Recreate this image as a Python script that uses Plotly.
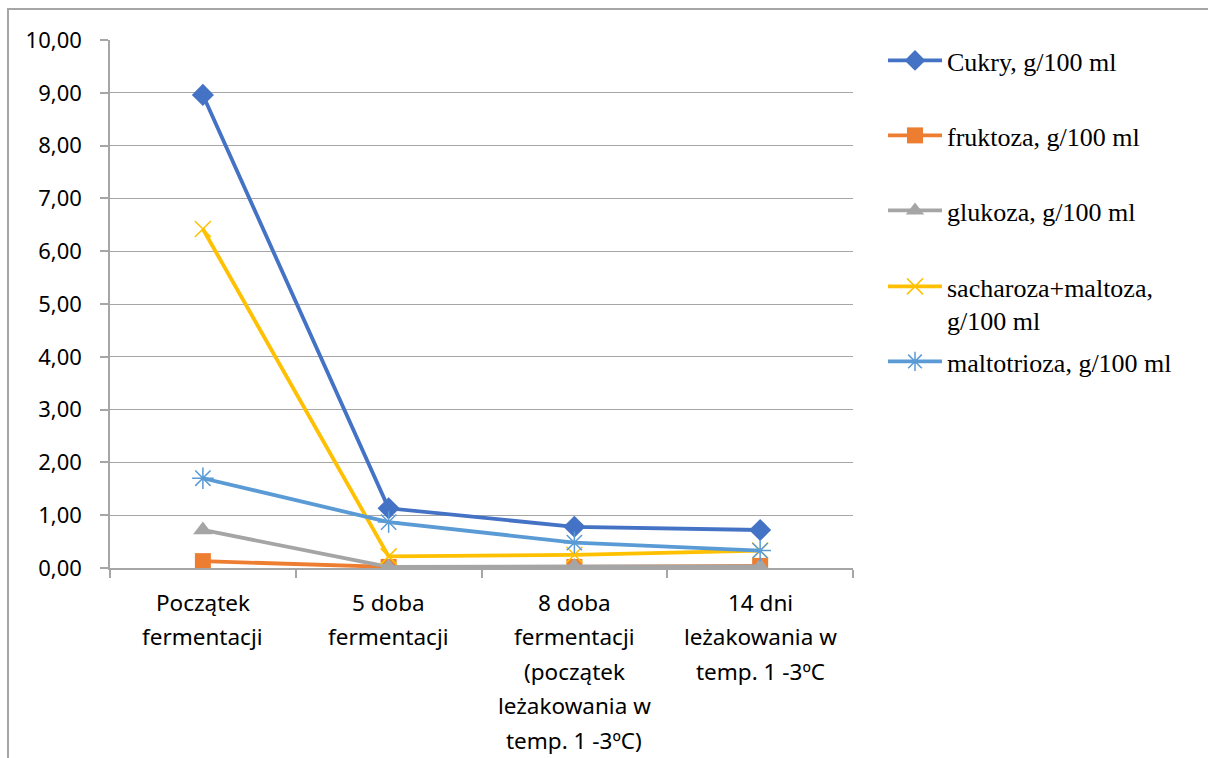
import plotly.graph_objects as go

# Sugar content during fermentation and lagering
categories = [
    "Początek<br>fermentacji",
    "5 doba<br>fermentacji",
    "8 doba<br>fermentacji<br>(początek<br>leżakowania w<br>temp. 1 -3ºC)",
    "14 dni<br>leżakowania w<br>temp. 1 -3ºC",
]
series_names = [
    "Cukry, g/100 ml",
    "fruktoza, g/100 ml",
    "glukoza, g/100 ml",
    "sacharoza+maltoza,<br>g/100 ml",
    "maltotrioza, g/100 ml",
]
cukry = [8.96, 1.13, 0.78, 0.72]
fruktoza = [0.13, 0.02, 0.02, 0.04]
glukoza = [0.72, 0.02, 0.03, 0.03]
sacharoza_maltoza = [6.42, 0.22, 0.25, 0.33]
maltotrioza = [1.70, 0.87, 0.48, 0.33]
y_ticks = [0, 1, 2, 3, 4, 5, 6, 7, 8, 9, 10]
y_tick_text = ["0,00", "1,00", "2,00", "3,00", "4,00", "5,00",
               "6,00", "7,00", "8,00", "9,00", "10,00"]

W, H = 1208, 758
M_L, M_R, M_T, M_B = 110, 355, 40, 190
plot_w = W - M_L - M_R
plot_h = H - M_T - M_B

colors = ["#4472C4", "#ED7D31", "#A5A5A5", "#FFC000", "#5B9BD5"]
symbols = ["diamond", "square", "triangle-up", "x-thin-open", "asterisk-open"]
marker_sizes = [17, 16, 17, 16, 18]
values = [cukry, fruktoza, glukoza, sacharoza_maltoza, maltotrioza]
legend_ids = ["legend", "legend2", "legend3", "legend4", "legend5"]
legend_centers_px = [62, 137, 212, 288, 363]

x_idx = list(range(len(categories)))

fig = go.Figure()
for name, vals, col, sym, ms, lg in zip(series_names, values, colors, symbols,
                                         marker_sizes, legend_ids):
    open_sym = sym.endswith("open")
    fig.add_trace(go.Scatter(
        x=x_idx, y=vals, name=name, mode="lines+markers",
        line=dict(color=col, width=3.8),
        marker=dict(symbol=sym, size=ms, color=col,
                    line=dict(color=col, width=1.5 if open_sym else 0)),
        legend=lg,
    ))

legend_font = dict(family="Liberation Serif", size=26, color="#000000")
layout_legends = {}
for lg, cy in zip(legend_ids, legend_centers_px):
    layout_legends[lg] = dict(
        x=883 / W, xref="container", xanchor="left",
        y=1 - (cy - 25) / H, yref="container", yanchor="top",
        font=legend_font, bgcolor="rgba(0,0,0,0)",
        valign="top", itemwidth=54,
    )

# Multi-line category labels, one annotation per line
annotations = []
line_gap = 34.5
first_offset = 34
for i, cat in enumerate(categories):
    for k, part in enumerate(cat.split("<br>")):
        annotations.append(dict(
            x=i, xref="x", y=0, yref="paper",
            text=part, showarrow=False, xanchor="center", yanchor="middle",
            yshift=-(first_offset + line_gap * k),
            font=dict(family="Noto Sans", size=22.5, color="#000000"),
        ))

# Chart-area frame
frame = dict(
    type="rect", xref="paper", yref="paper",
    x0=(8 - M_L) / plot_w, x1=(W + 10 - M_L) / plot_w,
    y0=(H - M_B - (H + 10)) / plot_h, y1=(H - M_B - 9) / plot_h,
    line=dict(color="#A6A6A6", width=2), fillcolor="rgba(0,0,0,0)",
    layer="below",
)

fig.update_layout(
    width=W, height=H,
    margin=dict(l=M_L, r=M_R, t=M_T, b=M_B, autoexpand=False),
    paper_bgcolor="white", plot_bgcolor="white",
    showlegend=True,
    annotations=annotations,
    shapes=[frame],
    **layout_legends,
)
fig.update_xaxes(
    range=[-0.5, len(categories) - 0.5],
    tickmode="array", tickvals=[i - 0.5 for i in range(len(categories) + 1)],
    ticktext=[""] * (len(categories) + 1),
    ticks="outside", ticklen=8, tickcolor="#A6A6A6", tickwidth=1.5,
    showline=True, linecolor="#A6A6A6", linewidth=1.5,
    showgrid=False, zeroline=False, fixedrange=True,
)
fig.update_yaxes(
    range=[0, 10], tickmode="array", tickvals=y_ticks, ticktext=y_tick_text,
    ticks="outside", ticklen=8, tickcolor="#A6A6A6", tickwidth=1.5,
    ticklabelstandoff=14,
    showline=True, linecolor="#A6A6A6", linewidth=1.5,
    showgrid=True, gridcolor="#A6A6A6", gridwidth=1.2,
    zeroline=False, fixedrange=True,
    tickfont=dict(family="Noto Sans", size=22, color="#000000"),
)

fig.write_html("out.html")
